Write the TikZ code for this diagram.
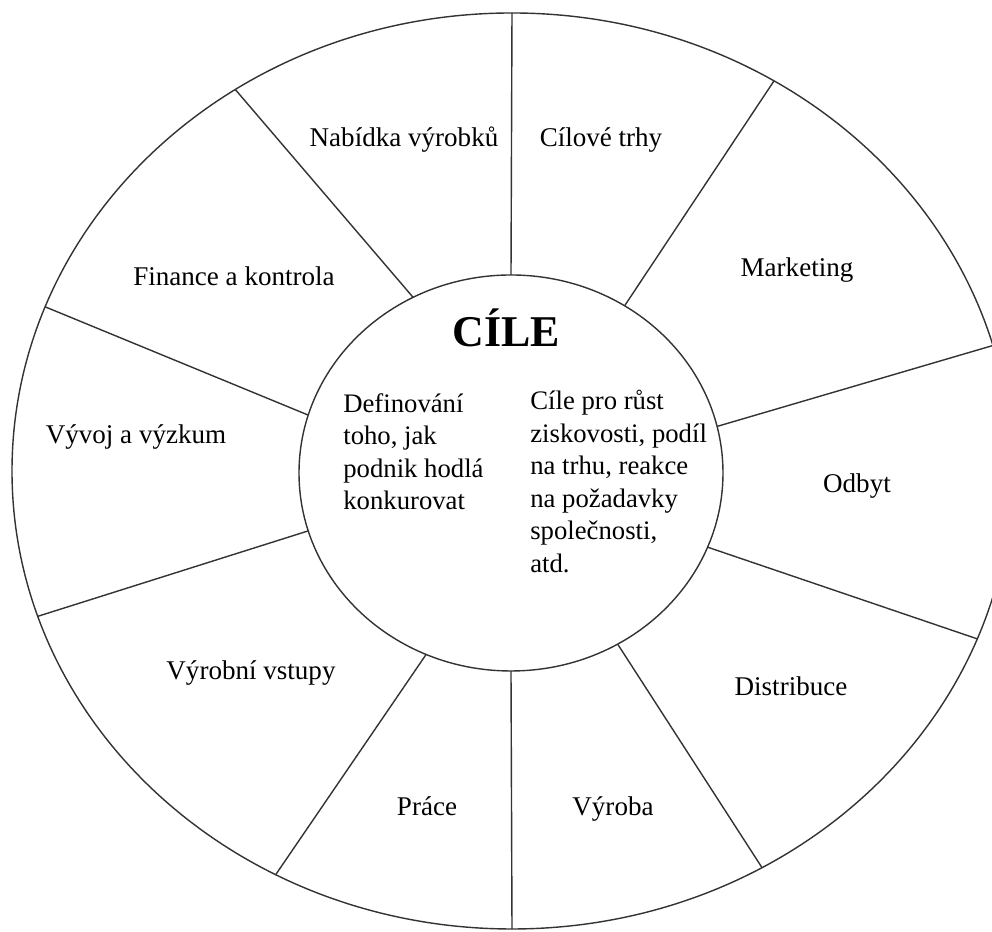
\documentclass[tikz,border=0pt]{standalone}
\usepackage{fontspec}
\setmainfont{Liberation Serif}
\usepackage{tikz}
\usetikzlibrary{positioning}

\begin{document}
\begin{tikzpicture}[
  x=0.02cm, y=0.02cm,
  ring/.style={draw=black!80, line width=0.8pt},
  spoke/.style={draw=black!80, line width=0.8pt},
  seg/.style={font=\fontsize{15.4}{18.5}\selectfont, inner sep=0pt},
  goal/.style={font=\fontsize{15.2}{18.5}\selectfont, align=left, anchor=north west, inner sep=0pt}
]
% page frame, right edge of the wheel is cut off
\clip (0,0) rectangle (992,932);
% outer and inner ring
\draw[ring] (512,461) ellipse [x radius=500, y radius=458];
\draw[ring] (511,459) ellipse [x radius=212, y radius=198];
% spokes: number / angle on inner ring / angle on outer ring
\foreach \n/\ai/\ao in {
  1/90/90, 2/117.5/123.6, 3/163/159, 4/197/198.5, 5/246.4/241.8,
  6/270/270, 7/300.2/300, 8/338/338.5, 9/13.6/15.9, 10/57.6/58.4}{
  \coordinate (in\n) at ([shift={(511,459)}]\ai:212 and 198);
  \coordinate (out\n) at ([shift={(512,461)}]\ao:500 and 458);
  \draw[spoke] (in\n) -- (out\n);
}
% segment labels
\node[seg] (nabidka) at (404,792) {Nabídka výrobků};
\node[seg] (trhy) at (601,792) {Cílové trhy};
\node[seg] (marketing) at (797,662) {Marketing};
\node[seg] (odbyt) at (857,446) {Odbyt};
\node[seg] (distribuce) at (791,246) {Distribuce};
\node[seg] (vyroba) at (613,123) {Výroba};
\node[seg] (prace) at (427,126) {Práce};
\node[seg] (vstupy) at (251,259) {Výrobní vstupy};
\node[seg] (vyvoj) at (136,495) {Vývoj a výzkum};
\node[seg] (finance) at (234,656) {Finance a kontrola};
% centre
\node[font=\fontsize{25}{30}\selectfont\bfseries, inner sep=0pt, anchor=base] (cile) at (506,585) {CÍLE};
\node[goal] (jak) at (343,539) {Definování\\toho, jak\\podnik hodlá\\konkurovat};
\node[goal] (rust) at (530,542) {Cíle pro růst\\ziskovosti, podíl\\na trhu, reakce\\na požadavky\\společnosti,\\atd.};
\end{tikzpicture}
\end{document}
